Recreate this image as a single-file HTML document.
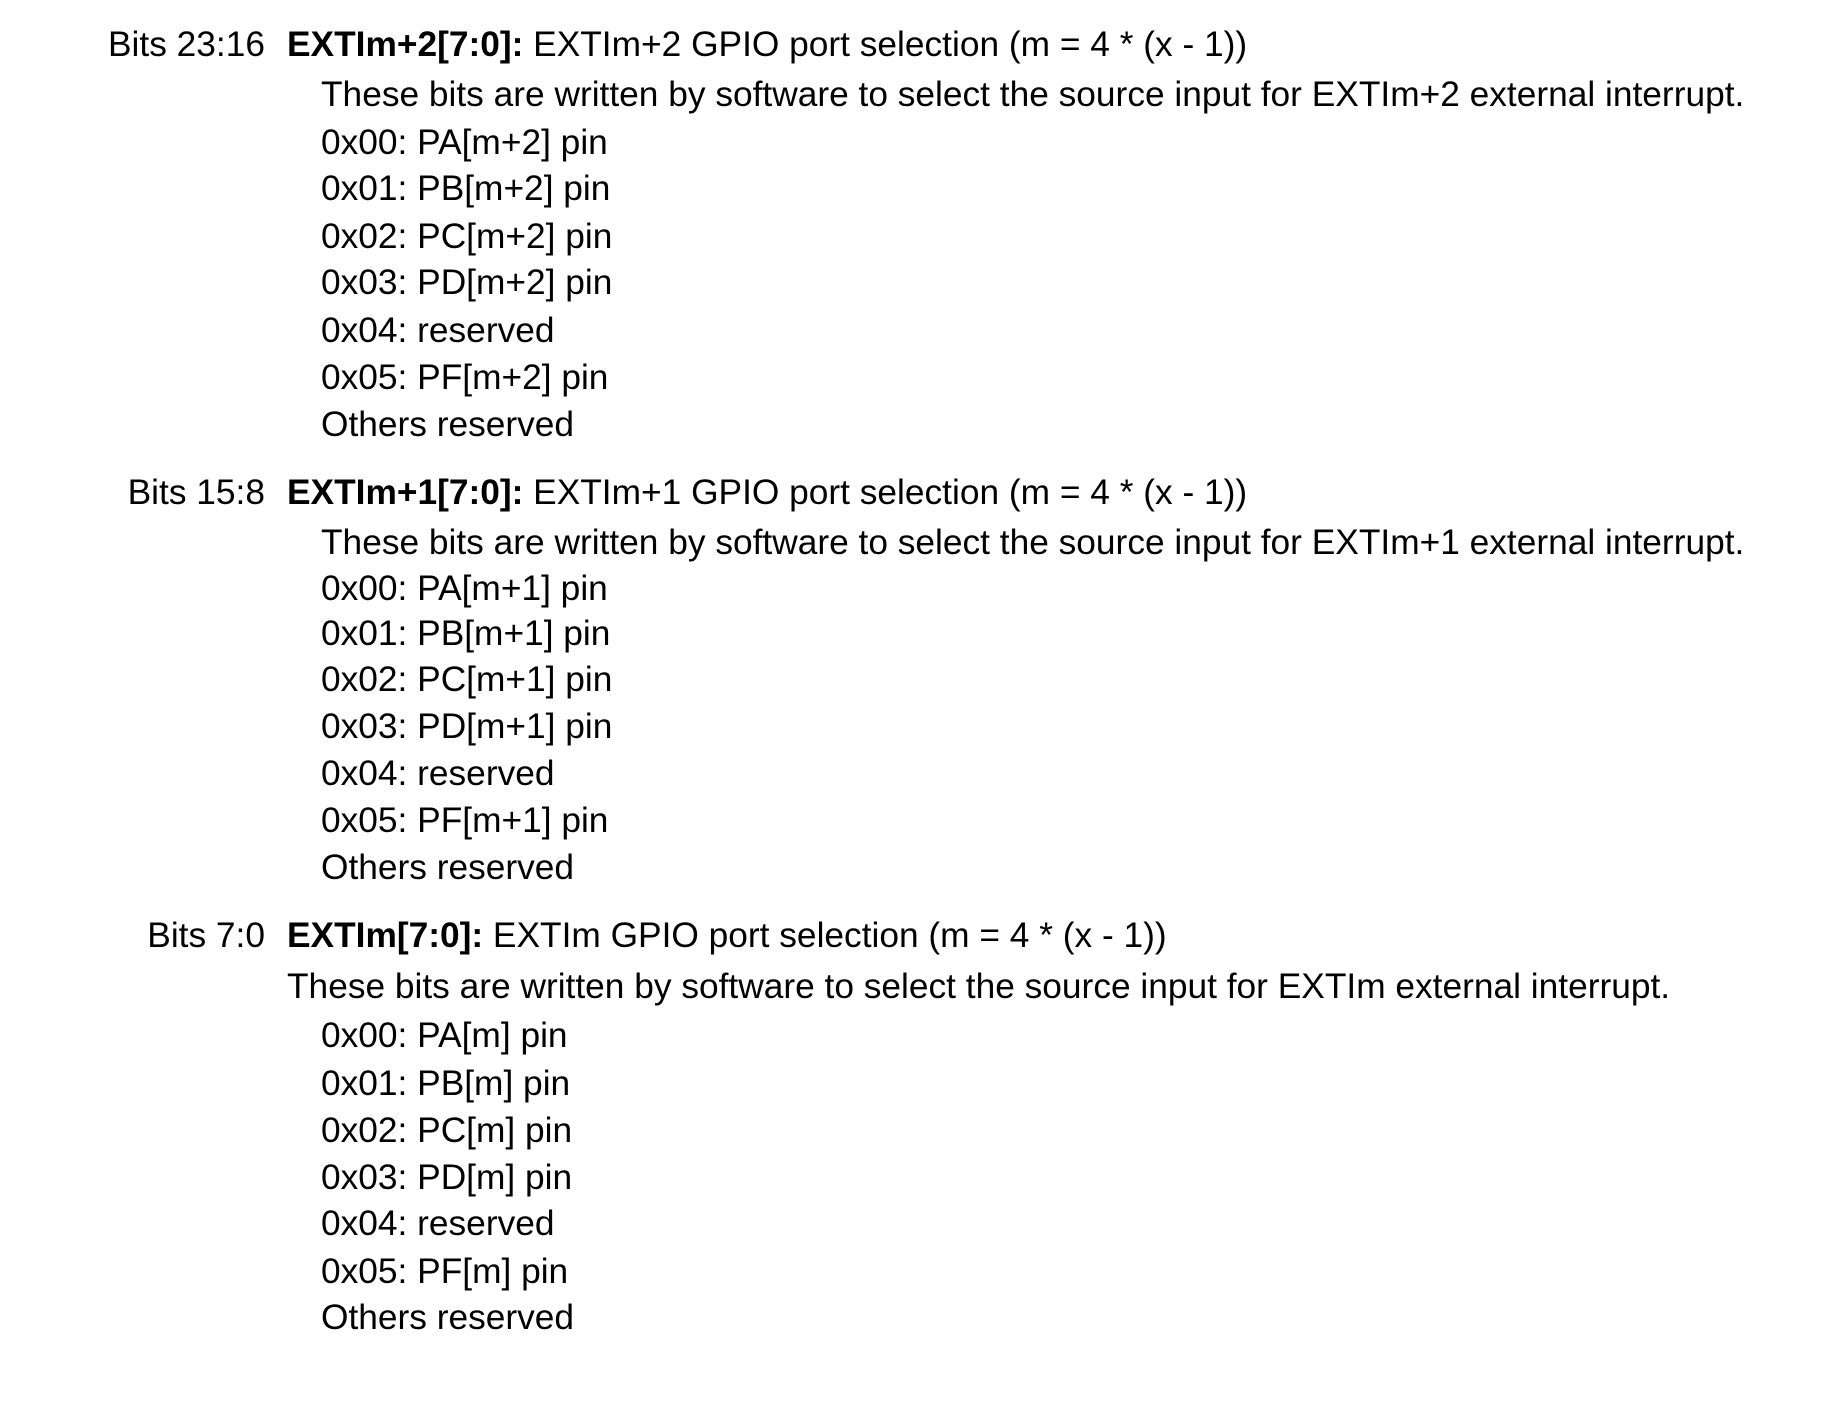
<!DOCTYPE html>
<html><head><meta charset="utf-8"><style>
html,body{margin:0;padding:0;background:#fff;}
body{width:1824px;height:1402px;position:relative;overflow:hidden;font-family:"Liberation Sans",Arial,sans-serif;font-size:35.3px;color:#000;}
.l{position:absolute;white-space:nowrap;line-height:40px;height:40px;}
.r{position:absolute;white-space:nowrap;line-height:40px;right:1559px;text-align:right;}
b{font-weight:bold;}
</style></head><body>
<div class="r" style="top:25px">Bits 23:16</div>
<div class="l" style="left:287px;top:25px"><b>EXTIm+2[7:0]:</b> EXTIm+2 GPIO port selection (m = 4 * (x - 1))</div>
<div class="l" style="left:321px;top:75px">These bits are written by software to select the source input for EXTIm+2 external interrupt.</div>
<div class="l" style="left:321px;top:123px">0x00: PA[m+2] pin</div>
<div class="l" style="left:321px;top:169px">0x01: PB[m+2] pin</div>
<div class="l" style="left:321px;top:217px">0x02: PC[m+2] pin</div>
<div class="l" style="left:321px;top:263px">0x03: PD[m+2] pin</div>
<div class="l" style="left:321px;top:311px">0x04: reserved</div>
<div class="l" style="left:321px;top:358px">0x05: PF[m+2] pin</div>
<div class="l" style="left:321px;top:405px">Others reserved</div>

<div class="r" style="top:473px">Bits 15:8</div>
<div class="l" style="left:287px;top:473px"><b>EXTIm+1[7:0]:</b> EXTIm+1 GPIO port selection (m = 4 * (x - 1))</div>
<div class="l" style="left:321px;top:523px">These bits are written by software to select the source input for EXTIm+1 external interrupt.</div>
<div class="l" style="left:321px;top:569px">0x00: PA[m+1] pin</div>
<div class="l" style="left:321px;top:614px">0x01: PB[m+1] pin</div>
<div class="l" style="left:321px;top:660px">0x02: PC[m+1] pin</div>
<div class="l" style="left:321px;top:707px">0x03: PD[m+1] pin</div>
<div class="l" style="left:321px;top:754px">0x04: reserved</div>
<div class="l" style="left:321px;top:801px">0x05: PF[m+1] pin</div>
<div class="l" style="left:321px;top:848px">Others reserved</div>

<div class="r" style="top:916px">Bits 7:0</div>
<div class="l" style="left:287px;top:916px"><b>EXTIm[7:0]:</b> EXTIm GPIO port selection (m = 4 * (x - 1))</div>
<div class="l" style="left:287px;top:967px">These bits are written by software to select the source input for EXTIm external interrupt.</div>
<div class="l" style="left:321px;top:1016px">0x00: PA[m] pin</div>
<div class="l" style="left:321px;top:1064px">0x01: PB[m] pin</div>
<div class="l" style="left:321px;top:1111px">0x02: PC[m] pin</div>
<div class="l" style="left:321px;top:1158px">0x03: PD[m] pin</div>
<div class="l" style="left:321px;top:1204px">0x04: reserved</div>
<div class="l" style="left:321px;top:1252px">0x05: PF[m] pin</div>
<div class="l" style="left:321px;top:1298px">Others reserved</div>
</body></html>
